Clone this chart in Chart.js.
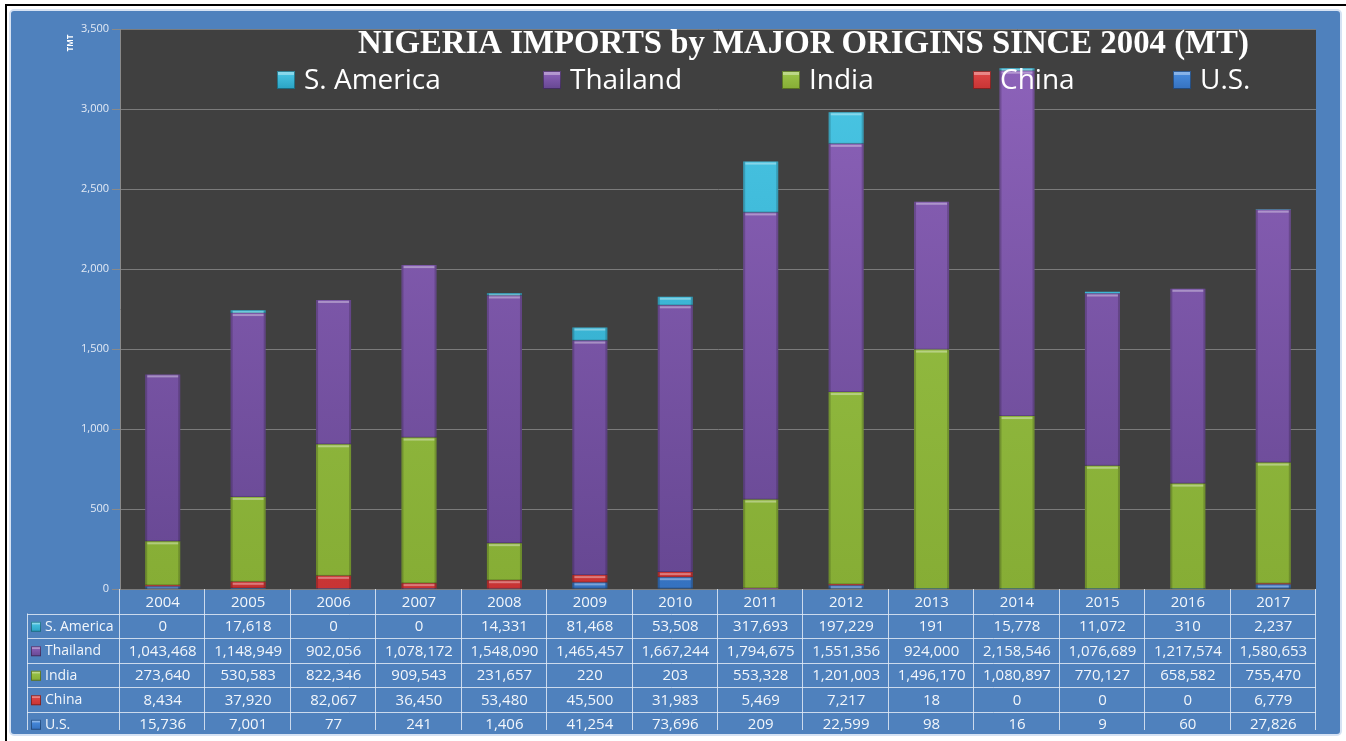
<!DOCTYPE html>
<html>
<head>
<meta charset="utf-8">
<script src="https://cdn.jsdelivr.net/npm/chart.js@4/dist/chart.umd.min.js"></script>
<style>
  html, body { margin: 0; padding: 0; background: #fff; overflow: hidden; }
  canvas { display: block; }
</style>
</head>
<body>
<canvas id="importsChart" width="1346" height="741"></canvas>
<script>
// values in metric tonnes, axis shows thousands (TMT)
const years = ['2004', '2005', '2006', '2007', '2008', '2009', '2010', '2011', '2012', '2013', '2014', '2015', '2016', '2017'];
const sAmerica = [0, 17618, 0, 0, 14331, 81468, 53508, 317693, 197229, 191, 15778, 11072, 310, 2237];
const thailand = [1043468, 1148949, 902056, 1078172, 1548090, 1465457, 1667244, 1794675, 1551356, 924000, 2158546, 1076689, 1217574, 1580653];
const india = [273640, 530583, 822346, 909543, 231657, 220, 203, 553328, 1201003, 1496170, 1080897, 770127, 658582, 755470];
const china = [8434, 37920, 82067, 36450, 53480, 45500, 31983, 5469, 7217, 18, 0, 0, 0, 6779];
const us = [15736, 7001, 77, 241, 1406, 41254, 73696, 209, 22599, 98, 16, 9, 60, 27826];

const yTicks = { min: 0, max: 3500000, step: 500000 };
const chartTitle = 'NIGERIA IMPORTS by MAJOR ORIGINS SINCE 2004 (MT)';
const axisTitle = 'TMT';

// legend / table order (top of stack first)
const series = [
    { label: 'S. America', data: sAmerica, top: '#4cc8e6', bottom: '#2aa3c4' },
    { label: 'Thailand', data: thailand, top: '#8f64bc', bottom: '#664792' },
    { label: 'India', data: india, top: '#9cc64a', bottom: '#86ad35' },
    { label: 'China', data: china, top: '#e04848', bottom: '#c83434' },
    { label: 'U.S.', data: us, top: '#4a8ee0', bottom: '#3572c0' }
];

const fmt = v => v.toLocaleString('en-US');

function vGradient(ctx, s) {
    const area = ctx.chart.chartArea;
    if (!area) return s.bottom;
    const g = ctx.chart.ctx.createLinearGradient(0, area.top, 0, area.bottom);
    g.addColorStop(0, s.top);
    g.addColorStop(1, s.bottom);
    return g;
}

// page frame + plot background
const framePlugin = {
    id: 'frame',
    beforeDraw(chart) {
        const c = chart.ctx, a = chart.chartArea;
        c.save();
        c.fillStyle = '#fff';
        c.fillRect(0, 0, chart.width, chart.height);
        c.fillStyle = '#000';
        c.fillRect(5, 4, chart.width - 5, 2);
        c.fillRect(5, 4, 2, chart.height - 4);
        c.beginPath();
        c.roundRect(10, 10, 1331, 725, 4);
        c.fillStyle = '#4f81bd';
        c.fill();
        c.lineWidth = 2;
        c.strokeStyle = '#d6e2f3';
        c.stroke();
        c.fillStyle = '#404040';
        c.fillRect(a.left, a.top, a.right - a.left, a.bottom - a.top);
        c.restore();
    }
};

// small bevel on each bar segment
const bevelPlugin = {
    id: 'bevel',
    afterDatasetsDraw(chart) {
        const c = chart.ctx;
        c.save();
        chart.data.datasets.forEach((ds, i) => {
            chart.getDatasetMeta(i).data.forEach(bar => {
                const top = Math.min(bar.y, bar.base), h = Math.abs(bar.base - bar.y);
                if (h < 2) return;
                const l = bar.x - bar.width / 2;
                c.fillStyle = 'rgba(255,255,255,0.35)';
                c.fillRect(l + 2, top + 1, bar.width - 4, Math.min(2, h - 1));
                c.fillStyle = 'rgba(0,0,0,0.18)';
                c.fillRect(l, top, 2, h);
                c.fillRect(l + bar.width - 2, top, 2, h);
                c.fillRect(l, top + h - 1, bar.width, 1);
            });
        });
        c.restore();
    }
};

function legendKey(c, x, y, size, s) {
    const g = c.createLinearGradient(0, y, 0, y + size);
    g.addColorStop(0, s.top);
    g.addColorStop(1, s.bottom);
    c.fillStyle = g;
    c.fillRect(x, y, size, size);
    c.strokeStyle = 'rgba(0,0,0,0.35)';
    c.lineWidth = 1;
    c.strokeRect(x + 0.5, y + 0.5, size - 1, size - 1);
    c.fillStyle = 'rgba(255,255,255,0.35)';
    c.fillRect(x + 1, y + 1, size - 2, Math.max(1, size / 6));
}

// title, legend, axis title and data table
const overlayPlugin = {
    id: 'overlay',
    afterDraw(chart) {
        const c = chart.ctx, a = chart.chartArea, xs = chart.scales.x;
        c.save();

        // title
        c.fillStyle = '#fff';
        c.font = 'bold 30px "Liberation Serif", "Times New Roman", serif';
        const tw = c.measureText(chartTitle).width;
        const fs = 30 * 890 / tw;
        c.font = 'bold ' + fs.toFixed(1) + 'px "Liberation Serif", "Times New Roman", serif';
        c.textAlign = 'left';
        c.textBaseline = 'alphabetic';
        c.fillText(chartTitle, 358, 53);

        // legend
        const keyX = [277, 543, 782, 973, 1173];
        c.font = '28px "Open Sans", sans-serif';
        c.textBaseline = 'middle';
        series.forEach((s, i) => {
            legendKey(c, keyX[i], 71, 18, s);
            c.fillStyle = '#fff';
            c.fillText(s.label, keyX[i] + 27, 81);
        });

        // axis title
        c.save();
        c.translate(71, 43);
        c.rotate(-Math.PI / 2);
        c.font = 'bold 8px "Open Sans", sans-serif';
        c.textAlign = 'center';
        c.textBaseline = 'middle';
        c.fillStyle = '#fff';
        c.fillText(axisTitle, 0, 0);
        c.restore();

        // data table
        const headTop = a.bottom, rowH = 24.5, tableLeft = 27, tableBottom = 730;
        const rowTop = headTop + rowH;
        c.strokeStyle = 'rgba(225,234,246,0.85)';
        c.lineWidth = 1;
        c.beginPath();
        for (let r = 0; r < series.length; r++) {
            const y = Math.round(rowTop + r * rowH) + 0.5;
            c.moveTo(tableLeft, y);
            c.lineTo(a.right, y);
        }
        c.moveTo(tableLeft + 0.5, rowTop);
        c.lineTo(tableLeft + 0.5, tableBottom);
        const step = (a.right - a.left) / years.length;
        for (let k = 0; k <= years.length; k++) {
            const x = Math.round(a.left + k * step) - 0.5;
            c.moveTo(x, headTop);
            c.lineTo(x, tableBottom);
        }
        c.stroke();

        const cellFont = '15px "Open Sans", sans-serif';
        const labelFont = '14px "Open Sans", sans-serif';
        c.fillStyle = '#f2f6fb';
        c.font = cellFont;
        c.textAlign = 'center';
        c.textBaseline = 'middle';
        years.forEach((yr, k) => c.fillText(yr, xs.getPixelForValue(k), headTop + rowH / 2 + 1));
        series.forEach((s, r) => {
            const cy = rowTop + r * rowH + rowH / 2 + 1;
            c.font = cellFont;
            c.textAlign = 'center';
            c.fillStyle = '#f2f6fb';
            s.data.forEach((v, k) => c.fillText(fmt(v), xs.getPixelForValue(k), cy));
            legendKey(c, 31, cy - 5, 10, s);
            c.font = labelFont;
            c.textAlign = 'left';
            c.fillStyle = '#f2f6fb';
            c.fillText(s.label, 45, cy);
        });

        c.restore();
    }
};

const datasets = series.slice().reverse().map(s => ({
    label: s.label,
    data: s.data,
    backgroundColor: ctx => vGradient(ctx, s),
    borderWidth: 0,
    barPercentage: 0.41,
    categoryPercentage: 1
}));

new Chart(document.getElementById('importsChart'), {
    type: 'bar',
    data: { labels: years, datasets: datasets },
    options: {
        responsive: false,
        animation: false,
        layout: { padding: { top: 29, right: 30, bottom: 152, left: 0 } },
        plugins: { legend: { display: false }, title: { display: false }, tooltip: { enabled: false } },
        scales: {
            x: { stacked: true, display: false },
            y: {
                stacked: true,
                min: yTicks.min,
                max: yTicks.max,
                afterFit: s => { s.width = 120; },
                ticks: {
                    stepSize: yTicks.step,
                    color: '#e3eaf5',
                    font: { family: '"Open Sans", sans-serif', size: 11 },
                    padding: 3,
                    callback: v => fmt(v / 1000)
                },
                grid: { color: '#7b7b7b', tickColor: '#8a8a8a', tickLength: 8, lineWidth: 1 },
                border: { color: '#8a8a8a' }
            }
        }
    },
    plugins: [framePlugin, bevelPlugin, overlayPlugin]
});
</script>
</body>
</html>
